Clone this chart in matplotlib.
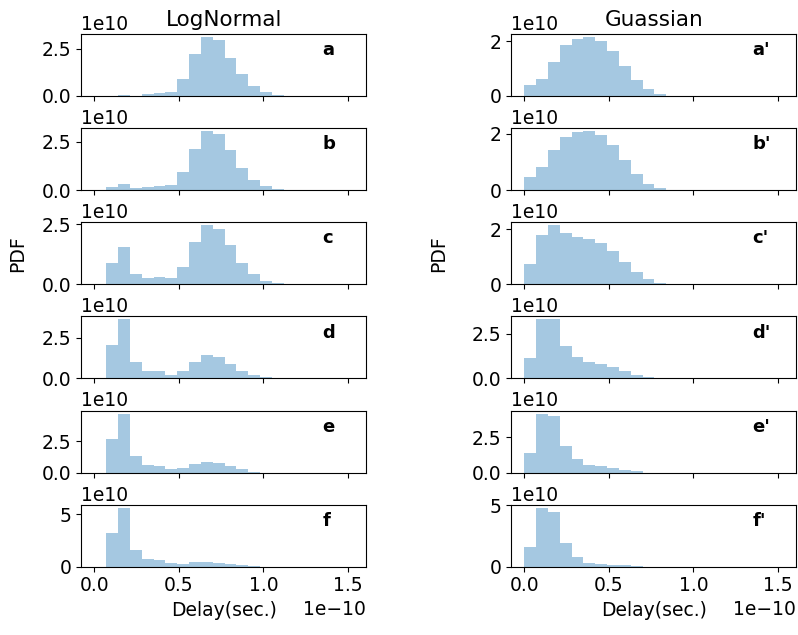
import matplotlib
matplotlib.use("Agg")
import matplotlib.pyplot as plt
import numpy as np
# Delay PDFs: LogNormal vs Guassian variation, six cases each

# histogram bins (units of 1e-10 s), bin width 0.07
bin_width = 0.07
lognormal_edges = [0.07, 0.14, 0.21, 0.28, 0.35, 0.42, 0.49, 0.56, 0.63, 0.70, 0.77, 0.84, 0.91, 0.98, 1.05]
gauss_edges = [0.0, 0.07, 0.14, 0.21, 0.28, 0.35, 0.42, 0.49, 0.56, 0.63, 0.70, 0.77]

# PDF heights (units of 1e10)
lognormal_a = [0.01, 0.05, 0.02, 0.12, 0.18, 0.23, 0.90, 2.20, 3.12, 2.98, 2.02, 1.16, 0.51, 0.19, 0.05]
lognormal_b = [0.14, 0.31, 0.09, 0.15, 0.21, 0.24, 0.91, 2.12, 3.05, 2.91, 2.05, 1.13, 0.51, 0.21, 0.05]
lognormal_c = [0.88, 1.54, 0.43, 0.27, 0.29, 0.24, 0.71, 1.75, 2.46, 2.32, 1.62, 0.89, 0.41, 0.14, 0.04]
lognormal_d = [2.05, 3.64, 0.99, 0.45, 0.43, 0.23, 0.45, 1.03, 1.45, 1.32, 0.91, 0.45, 0.19, 0.06, 0.0]
lognormal_e = [2.69, 4.68, 1.30, 0.59, 0.53, 0.24, 0.32, 0.66, 0.85, 0.74, 0.48, 0.24, 0.08, 0.0, 0.0]
lognormal_f = [3.23, 5.63, 1.58, 0.70, 0.63, 0.32, 0.25, 0.41, 0.44, 0.35, 0.22, 0.13, 0.03, 0.0, 0.0]

gauss_a = [0.41, 0.63, 1.26, 1.85, 2.07, 2.16, 2.02, 1.63, 1.10, 0.57, 0.24, 0.07]
gauss_b = [0.46, 0.82, 1.41, 1.88, 2.04, 2.09, 1.95, 1.59, 1.05, 0.56, 0.22, 0.07]
gauss_c = [0.75, 1.81, 2.15, 1.85, 1.72, 1.64, 1.52, 1.22, 0.80, 0.44, 0.18, 0.06]
gauss_d = [1.15, 3.31, 3.31, 1.84, 1.18, 0.92, 0.81, 0.64, 0.41, 0.19, 0.06, 0.0]
gauss_e = [1.38, 4.19, 4.02, 1.86, 0.93, 0.55, 0.43, 0.33, 0.21, 0.10, 0.0, 0.0]
gauss_f = [1.59, 4.81, 4.49, 1.92, 0.76, 0.30, 0.22, 0.16, 0.11, 0.05, 0.0, 0.0]

lognormal_sets = [lognormal_a, lognormal_b, lognormal_c, lognormal_d, lognormal_e, lognormal_f]
gauss_sets = [gauss_a, gauss_b, gauss_c, gauss_d, gauss_e, gauss_f]
panel_labels = ["a", "b", "c", "d", "e", "f"]
column_titles = ["LogNormal", "Guassian"]

TICK_FS = 13.5
plt.rcParams["xtick.labelsize"] = TICK_FS
plt.rcParams["ytick.labelsize"] = TICK_FS

fig, axes = plt.subplots(6, 2, sharex=True, figsize=(7.98, 6.35), dpi=100)
fig.subplots_adjust(left=0.102, right=0.9975, top=0.9465, bottom=0.1076, hspace=0.52, wspace=0.51)

ylabel_x = [-0.192, -0.2205]  # axes fraction, left / right column

for col, (edges, sets) in enumerate([(lognormal_edges, lognormal_sets), (gauss_edges, gauss_sets)]):
    x = np.array(edges) * 1e-10
    for row, heights in enumerate(sets):
        ax = axes[row, col]
        ax.bar(x, np.array(heights) * 1e10, width=bin_width * 1e-10, align="edge",
               color="C0", alpha=0.4, linewidth=0)
        label = panel_labels[row] + ("'" if col == 1 else "")
        ax.text(1.35e-10, 0.74, label, transform=ax.get_xaxis_transform(),
                fontsize=13, fontweight="bold", ha="left", va="center")
        ax.yaxis.get_offset_text().set_fontsize(TICK_FS)
        ax.xaxis.get_offset_text().set_fontsize(TICK_FS)
        if row == 2:
            ax.set_ylabel("PDF", fontsize=TICK_FS)
            ax.yaxis.set_label_coords(ylabel_x[col], 0.5)
    axes[0, col].set_title(column_titles[col], fontsize=15.5)
    axes[5, col].set_xlabel("Delay(sec.)", fontsize=TICK_FS)

axes[0, 0].set_xlim(-0.0765e-10, 1.607e-10)

fig.savefig("out.png", dpi=100)
